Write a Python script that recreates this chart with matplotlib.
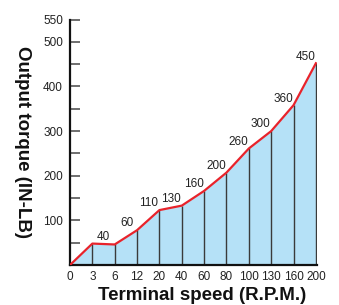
import matplotlib
matplotlib.use("Agg")
import matplotlib.pyplot as plt
import numpy as np

plt.rcParams['font.family'] = ['Liberation Sans', 'DejaVu Sans']

speeds = ["0", "3", "6", "12", "20", "40", "60", "80", "100", "130", "160", "200"]
torque = [0, 48, 46, 78, 123, 133, 166, 207, 261, 300, 358, 452]
label_text = ["40", "60", "110", "130", "160", "200", "260", "300", "360", "450"]
label_pos = [1.5, 3, 4, 5, 6, 7, 8, 9, 10, 11]
label_base = [47, 78, 123, 133, 166, 207, 261, 300, 358, 452]

fig = plt.figure(figsize=(3.39, 3.05), dpi=100)
ax = fig.add_axes([70/339, 40/305, (317-70)/339, (265-19.5)/305])

x = np.arange(len(speeds))
ax.fill_between(x, 0, torque, color='#b5e1f7', linewidth=0, zorder=1)
ax.vlines(x[1:], 0, torque[1:], color='#3a3a3a', linewidth=1.0, zorder=2)
ax.plot(x, torque, color='#e8232b', linewidth=1.6, zorder=3, solid_joinstyle='round')

for t, p, b in zip(label_text, label_pos, label_base):
    off = 0.0 if p == 1.5 else -0.47
    ax.text(p + off, b + 15, t, ha='center', va='center', fontsize=8.5, color='#222222', zorder=4)

ax.set_xlim(0, 11.05)
ax.set_ylim(0, 550)
ax.set_xticks(x)
ax.set_xticklabels(speeds)
ax.set_yticks([100, 200, 300, 400, 500, 550])
ax.set_yticklabels(["100", "200", "300", "400", "500", "550"])
ax.set_yticks([50, 150, 250, 350, 450], minor=True)
ax.tick_params(axis='x', length=0, pad=4, labelsize=8.5, colors='#222222')
ax.tick_params(axis='y', which='both', direction='in', length=7, width=1.2, color='#555555',
               pad=5, labelsize=8.5, labelcolor='#222222')

for s in ['top', 'right']:
    ax.spines[s].set_visible(False)
for s in ['left', 'bottom']:
    ax.spines[s].set_linewidth(1.6)
    ax.spines[s].set_color('#111111')

ax.set_xlabel("Terminal speed (R.P.M.)", fontsize=13.5, fontweight='bold', color='#111111')
ax.xaxis.set_label_coords(0.536, -0.09)
ax.set_ylabel("Output torque (IN-LB)", fontsize=13.5, fontweight='bold', color='#111111',
              rotation=270)
ax.yaxis.set_label_coords(-0.225, 0.50)

fig.savefig("out.png", dpi=100)
